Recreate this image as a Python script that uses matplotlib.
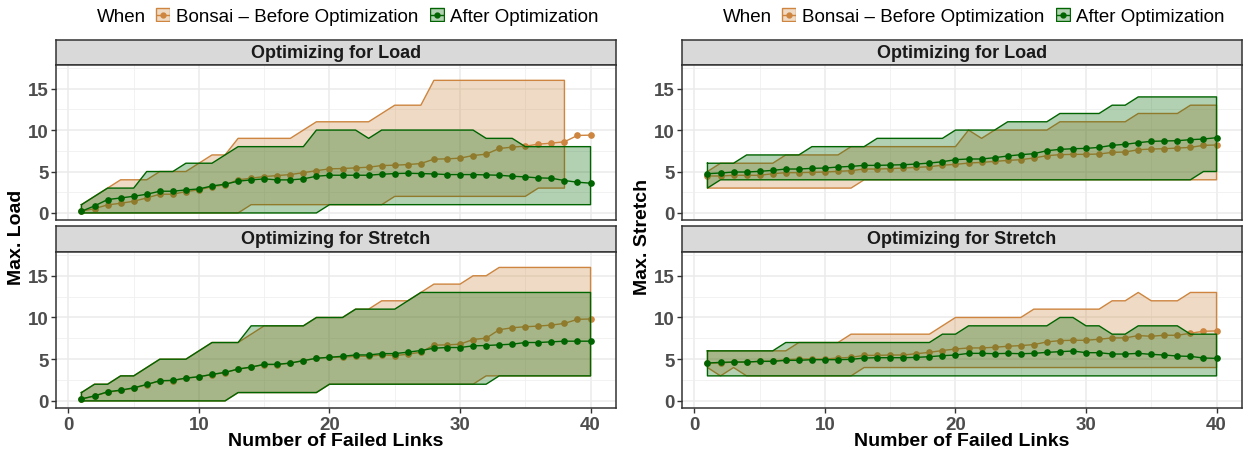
import numpy as np
import matplotlib.pyplot as plt
from matplotlib.patches import Rectangle
from matplotlib.ticker import MultipleLocator

plt.rcParams['font.family'] = ['Liberation Sans', 'DejaVu Sans']

failed_links = np.arange(1, 41)
nan = np.nan

# --- Max. Load, optimizing for load ---
lt_before_mean = [0.2, 0.53, 0.97, 1.17, 1.41, 1.81, 2.26, 2.26, 2.58, 2.78,
                  3.18, 3.39, 4.0, 4.19, 4.39, 4.51, 4.63, 4.86, 5.1, 5.32,
                  5.36, 5.44, 5.52, 5.72, 5.76, 5.84, 5.96, 6.49, 6.53, 6.61,
                  6.93, 7.09, 7.78, 7.94, 8.06, 8.30, 8.42, 8.59, 9.35, 9.39]
lt_before_min = [0]*13 + [1]*11 + [2]*11 + [3]*3 + [nan]*2
lt_before_max = [1, 2, 3, 4, 4, 4, 5, 5, 5, 6, 7, 7, 9, 9, 9, 9, 9, 10, 11, 11,
                 11, 11, 11, 12, 13, 13, 13] + [16]*11 + [nan]*2
lt_after_mean = [0.2, 0.85, 1.61, 1.81, 2.01, 2.26, 2.62, 2.62, 2.78, 2.9,
                 3.26, 3.47, 3.83, 3.99, 4.11, 3.99, 3.99, 4.11, 4.43, 4.55,
                 4.55, 4.55, 4.55, 4.67, 4.75, 4.79, 4.75, 4.71, 4.63, 4.63,
                 4.63, 4.59, 4.55, 4.43, 4.35, 4.23, 4.19, 3.91, 3.71, 3.59]
lt_after_min = [0]*19 + [1]*21
lt_after_max = [1, 2, 3, 3, 3, 5, 5, 5, 6, 6, 6, 7, 8, 8, 8, 8, 8, 8, 10, 10,
                10, 10, 9, 10, 10, 10, 10, 10, 10, 10, 10, 9, 9, 9] + [8]*6

# --- Max. Load, optimizing for stretch ---
lb_before_mean = [0.22, 0.58, 1.05, 1.25, 1.52, 1.95, 2.4, 2.44, 2.72, 2.88,
                  3.16, 3.4, 3.8, 4.04, 4.36, 4.36, 4.52, 4.83, 5.11, 5.23,
                  5.23, 5.35, 5.35, 5.51, 5.43, 5.6, 5.84, 6.68, 6.72, 6.8,
                  7.36, 7.52, 8.53, 8.77, 8.89, 8.97, 9.09, 9.29, 9.78, 9.82]
lb_before_min = [0]*12 + [1]*7 + [2]*12 + [3]*9
lb_before_max = [1, 2, 2, 3, 3, 4, 5, 5, 5, 6, 7, 7, 7, 8, 9, 9, 9, 9, 10, 10,
                 10, 11, 11, 12, 12, 12, 13, 14, 14, 14, 15, 15] + [16]*8
lb_after_mean = [0.24, 0.6, 1.09, 1.29, 1.57, 1.97, 2.42, 2.46, 2.74, 2.9,
                 3.18, 3.42, 3.82, 4.06, 4.38, 4.38, 4.54, 4.83, 5.11, 5.23,
                 5.35, 5.51, 5.51, 5.67, 5.67, 5.84, 6.04, 6.32, 6.4, 6.4,
                 6.6, 6.64, 6.72, 6.8, 7.0, 7.0, 7.08, 7.16, 7.16, 7.16]
lb_after_min = [0]*12 + [1]*7 + [2]*13 + [3]*8
lb_after_max = [1, 2, 2, 3, 3, 4, 5, 5, 5, 6, 7, 7, 7, 9, 9, 9, 9, 9, 10, 10,
                10, 11, 11, 11, 11, 12] + [13]*14

# --- Max. Stretch, optimizing for load ---
rt_before_mean = [4.46, 4.46, 4.54, 4.54, 4.54, 4.74, 4.86, 4.86, 4.9, 4.94,
                  5.02, 5.1, 5.3, 5.3, 5.34, 5.42, 5.5, 5.58, 5.76, 5.86,
                  6.02, 6.1, 6.22, 6.34, 6.43, 6.63, 6.91, 7.03, 7.07, 7.07,
                  7.11, 7.31, 7.35, 7.63, 7.71, 7.75, 7.83, 7.91, 8.16, 8.2]
rt_before_min = [3]*12 + [4]*28
rt_before_max = [5] + [6]*5 + [7]*5 + [8]*9 + [10, 9] + [10]*5 + [11]*6 \
    + [12]*4 + [13]*3
rt_after_mean = [4.74, 4.82, 4.94, 4.94, 5.02, 5.14, 5.3, 5.3, 5.38, 5.42,
                 5.54, 5.62, 5.74, 5.74, 5.78, 5.82, 5.9, 6.02, 6.18, 6.43,
                 6.51, 6.51, 6.67, 6.87, 7.03, 7.15, 7.51, 7.67, 7.75, 7.79,
                 7.91, 8.16, 8.28, 8.48, 8.64, 8.68, 8.72, 8.84, 8.92, 9.08]
rt_after_min = [3] + [4]*37 + [5]*2
rt_after_max = [6]*3 + [7]*5 + [8]*5 + [9]*6 + [10]*4 + [11]*4 + [12]*4 \
    + [13]*2 + [14]*7

# --- Max. Stretch, optimizing for stretch ---
rb_before_mean = [4.54, 4.54, 4.66, 4.66, 4.74, 4.78, 4.94, 5.02, 5.02, 5.02,
                  5.14, 5.22, 5.46, 5.46, 5.5, 5.5, 5.66, 5.82, 6.04, 6.22,
                  6.35, 6.35, 6.43, 6.55, 6.63, 6.75, 7.07, 7.23, 7.27, 7.27,
                  7.39, 7.55, 7.55, 7.83, 7.75, 7.87, 7.87, 8.11, 8.35, 8.39]
rb_before_min = [4, 3, 4] + [3]*9 + [4]*28
rb_before_max = [6]*7 + [7]*4 + [8]*7 + [9] + [10]*6 + [11]*6 + [12]*2 \
    + [13] + [12]*3 + [13]*3
rb_after_mean = [4.54, 4.62, 4.66, 4.66, 4.74, 4.74, 4.86, 4.86, 4.94, 4.94,
                 4.94, 4.98, 5.14, 5.18, 5.18, 5.18, 5.22, 5.3, 5.42, 5.5,
                 5.7, 5.7, 5.66, 5.7, 5.66, 5.7, 5.82, 5.9, 5.98, 5.78,
                 5.78, 5.62, 5.62, 5.7, 5.58, 5.5, 5.38, 5.34, 5.14, 5.1]
rb_after_min = [3]*40
rb_after_max = [6]*6 + [7]*12 + [8]*2 + [9]*7 + [10]*2 + [9]*2 + [8]*2 \
    + [9]*4 + [8]*3

series_names = ['Bonsai \u2013 Before Optimization', 'After Optimization']
facet_titles = ['Optimizing for Load', 'Optimizing for Stretch']
y_titles = ['Max. Load', 'Max. Stretch']
x_title = 'Number of Failed Links'

ORANGE = '#CD853F'
GREEN = '#006400'
W, H = 1248, 456

fig = plt.figure(figsize=(W / 100, H / 100), dpi=100)
renderer = fig.canvas.get_renderer()


def px_axes(x0, y0, x1, y1):
    return fig.add_axes([x0 / W, 1 - y1 / H, (x1 - x0) / W, (y1 - y0) / H])


def draw_facet(ax, before, after, show_x):
    for (mean, lo, hi), col in ((before, ORANGE), (after, GREEN)):
        lo = np.array(lo, dtype=float)
        hi = np.array(hi, dtype=float)
        ax.fill_between(failed_links, lo, hi, facecolor=col, alpha=0.3,
                        edgecolor='none', zorder=2)
        ok = ~np.isnan(lo)
        xs = failed_links[ok]
        outline_x = np.concatenate([xs, xs[::-1], xs[:1]])
        outline_y = np.concatenate([hi[ok], lo[ok][::-1], hi[ok][:1]])
        ax.plot(outline_x, outline_y, color=col, lw=1, zorder=2)
        ax.plot(failed_links, mean, color=col, lw=1, marker='o', ms=3.8,
                zorder=2)
    ax.set_xlim(-0.95, 41.95)
    ax.set_ylim(-0.85, 17.85)
    ax.xaxis.set_major_locator(MultipleLocator(10))
    ax.xaxis.set_minor_locator(MultipleLocator(5))
    ax.yaxis.set_major_locator(MultipleLocator(5))
    ax.yaxis.set_minor_locator(MultipleLocator(2.5))
    ax.grid(which='major', color='#EBEBEB', lw=1.1, zorder=0)
    ax.grid(which='minor', color='#F0F0F0', lw=0.6, zorder=0)
    ax.set_axisbelow(True)
    for s in ax.spines.values():
        s.set_color('#333333')
        s.set_linewidth(1.1)
    ax.tick_params(which='minor', length=0)
    ax.tick_params(which='major', length=3.5, width=1, color='#333333',
                   labelsize=13.5, labelcolor='#4D4D4D', pad=2)
    for lab in ax.get_yticklabels() + ax.get_xticklabels():
        lab.set_fontweight('bold')
    if not show_x:
        ax.tick_params(axis='x', labelbottom=False, length=0)


def draw_strip(x0, y0, x1, y1, title):
    sax = px_axes(x0, y0, x1, y1)
    sax.set_facecolor('#D9D9D9')
    sax.set_xticks([])
    sax.set_yticks([])
    for s in sax.spines.values():
        s.set_color('#333333')
        s.set_linewidth(1.1)
    sax.text(0.5, 0.5, title, ha='center', va='center', fontsize=13,
             fontweight='bold', color='#1A1A1A', transform=sax.transAxes)


def draw_legend(x_end, y_mid=15, size=13.5):
    # lay the legend out first, then shift it so it ends at x_end
    items = []
    x = 0
    t = fig.text(0, 1 - y_mid / H, 'When', fontsize=size, ha='left',
                 va='center_baseline')
    items.append((t, x))
    x += t.get_window_extent(renderer).width + 9
    keys = []
    for name, col in zip(series_names, (ORANGE, GREEN)):
        keys.append((x, col))
        x += 15 + 6
        t = fig.text(0, 1 - y_mid / H, name, fontsize=size, ha='left',
                     va='center_baseline')
        items.append((t, x))
        x += t.get_window_extent(renderer).width + 11
    shift = x_end - (x - 11)
    for t, tx in items:
        t.set_x((tx + shift) / W)
    for kx, col in keys:
        kx += shift
        kax = px_axes(kx, y_mid - 7, kx + 15, y_mid + 8)
        kax.set_xlim(0, 1)
        kax.set_ylim(0, 1)
        kax.axis('off')
        kax.add_patch(Rectangle((0.04, 0.04), 0.92, 0.92, facecolor=col,
                                alpha=0.3, edgecolor='none'))
        kax.add_patch(Rectangle((0.04, 0.04), 0.92, 0.92, facecolor='none',
                                edgecolor=col, lw=1))
        kax.plot([0.1, 0.9], [0.5, 0.5], color=col, lw=1)
        kax.plot([0.5], [0.5], 'o', color=col, ms=3.5)


panels = [
    (56, 616, (lt_before_mean, lt_before_min, lt_before_max),
     (lt_after_mean, lt_after_min, lt_after_max),
     (lb_before_mean, lb_before_min, lb_before_max),
     (lb_after_mean, lb_after_min, lb_after_max), y_titles[0], 17, 599),
    (682, 1242, (rt_before_mean, rt_before_min, rt_before_max),
     (rt_after_mean, rt_after_min, rt_after_max),
     (rb_before_mean, rb_before_min, rb_before_max),
     (rb_after_mean, rb_after_min, rb_after_max), y_titles[1], 643, 1225),
]

for x0, x1, top_b, top_a, bot_b, bot_a, ytitle, ytx, leg_end in panels:
    draw_strip(x0, 41, x1, 66, facet_titles[0])
    ax_top = px_axes(x0, 66, x1, 221)
    draw_facet(ax_top, top_b, top_a, show_x=False)
    draw_strip(x0, 227, x1, 253, facet_titles[1])
    ax_bot = px_axes(x0, 253, x1, 409)
    draw_facet(ax_bot, bot_b, bot_a, show_x=True)
    fig.text(ytx / W, 1 - 237 / H, ytitle, rotation=90, fontsize=14,
             fontweight='bold', ha='center', va='center')
    fig.text((x0 + x1) / 2 / W, 1 - 442 / H, x_title, fontsize=14,
             fontweight='bold', ha='center', va='center')
    draw_legend(leg_end)

fig.savefig('out.png', dpi=100)
